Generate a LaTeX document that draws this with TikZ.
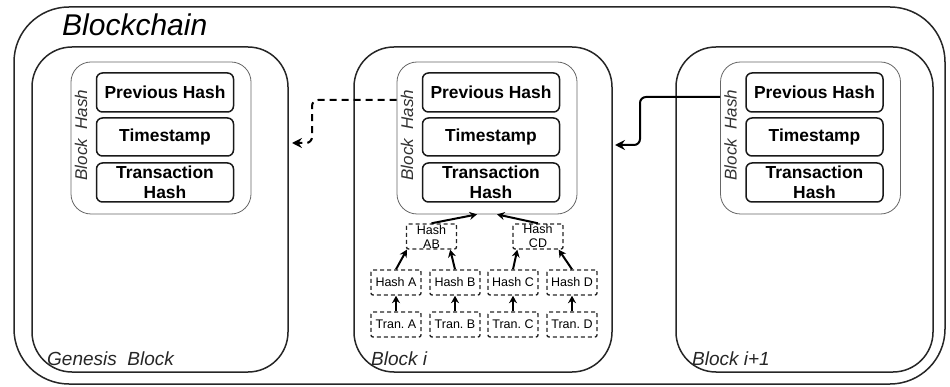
\documentclass[tikz,border=0pt]{standalone}
\usepackage{fontspec}
\setmainfont{Liberation Sans}
\frenchspacing
\usetikzlibrary{arrows.meta,calc}
\tikzset{
  outerbox/.style={draw=black!85,line width=1.5pt,rounded corners=55pt,minimum width=931pt,minimum height=377pt,inner sep=0pt},
  blockbox/.style={draw=black!85,line width=1.5pt,rounded corners=40pt,minimum height=325pt,inner sep=0pt},
  hashbox/.style={draw=black!60,line width=0.8pt,rounded corners=20pt,minimum width=180pt,minimum height=152pt,inner sep=0pt},
  fieldbox/.style={draw=black!90,line width=1.5pt,rounded corners=6pt,minimum width=137pt,inner sep=0pt,align=center,font=\bfseries\fontsize{17.4}{20.5}\selectfont},
  sidelabel/.style={rotate=90,font=\itshape\fontsize{17}{20}\selectfont,text=black!80,inner sep=0pt},
  blocklabel/.style={anchor=base west,font=\itshape\fontsize{19}{22}\selectfont,text=black!85,inner sep=0pt},
  treebox/.style={draw=black!85,line width=1.4pt,dash pattern=on 4pt off 3pt,rounded corners=2pt,minimum width=50pt,minimum height=25pt,inner sep=0pt,align=center,font=\fontsize{12.5}{14}\selectfont},
  treearrow/.style={draw=black,line width=2pt,-{Stealth[length=7.5pt,width=8pt,inset=2.5pt]}},
  linkarrow/.style={draw=black,line width=2pt,rounded corners=6pt,-{Stealth[length=10pt,width=10pt,inset=3.5pt]}}
}
\begin{document}
\begin{tikzpicture}[x=1pt,y=-1pt]
\useasboundingbox (0,0) rectangle (950,387);
\node[outerbox] (outer) at (479.5,195.5) {};
\node[anchor=base west,font=\itshape\fontsize{30}{33}\selectfont,inner sep=0pt] (title) at (62,35.7) {Blockchain};

\node[blockbox,minimum width=256pt] (bg) at (160,209.5) {};
\node[blockbox,minimum width=258pt] (bi) at (483,209.5) {};
\node[blockbox,minimum width=257pt] (bj) at (804.5,209.5) {};

\node[blocklabel] (lg) at (47,365) {Genesis\ \ Block};
\node[blocklabel] (li) at (371,365) {Block i};
\node[blocklabel] (lj) at (692,365) {Block i+1};

\foreach \n/\x in {g/161, i/487, j/810.5}{
  \node[hashbox] (c\n) at (\x,138) {};
  \node[fieldbox,minimum height=39pt] (p\n) at (\x+4,92.5) {Previous Hash};
  \node[fieldbox,minimum height=38pt] (t\n) at (\x+4,137) {Timestamp};
  \node[fieldbox,minimum height=39pt] (h\n) at (\x+4,182.5) {Transaction\\Hash};
  \node[sidelabel] (s\n) at (\x-80,135) {Block\ \ Hash};
}

% links between blocks
\coordinate (gin) at (292,143);
\coordinate (iin) at (615,145);
\draw[linkarrow,dash pattern=on 7pt off 5pt] (ci.west |- 0,100) -- (312,100) -- (312,143) -- (gin);
\draw[linkarrow] (cj.west |- 0,97) -- (640,97) -- (640,145) -- (iin);

% Merkle tree in block i
\node[treebox] (hab) at (431.5,236.5) {Hash\\AB};
\node[treebox] (hcd) at (538,236.5) {Hash\\CD};
\node[treebox] (ha) at (396,282.5) {Hash A};
\node[treebox] (hb) at (455,282.5) {Hash B};
\node[treebox] (hc) at (513,282.5) {Hash C};
\node[treebox] (hd) at (572,282.5) {Hash D};
\node[treebox] (ta) at (396,324.5) {Tran. A};
\node[treebox] (tb) at (455,324.5) {Tran. B};
\node[treebox] (tc) at (513,324.5) {Tran. C};
\node[treebox] (td) at (572,324.5) {Tran. D};

\draw[treearrow] (ta) -- (ha);
\draw[treearrow] (tb) -- (hb);
\draw[treearrow] (tc) -- (hc);
\draw[treearrow] (td) -- (hd);
\draw[treearrow] (ha.north) -- ($(hab.south west)+(1,0)$);
\draw[treearrow] (hb.north) -- ($(hab.south east)+(-7,0)$);
\draw[treearrow] (hc.north) -- ($(hcd.south west)+(5,0)$);
\draw[treearrow] (hd.north) -- ($(hcd.south east)+(-5,0)$);
\draw[treearrow] (hab.north) -- ($(ci.south)+(-10,0)$);
\draw[treearrow] (hcd.north) -- ($(ci.south)+(10,0)$);
\end{tikzpicture}
\end{document}
